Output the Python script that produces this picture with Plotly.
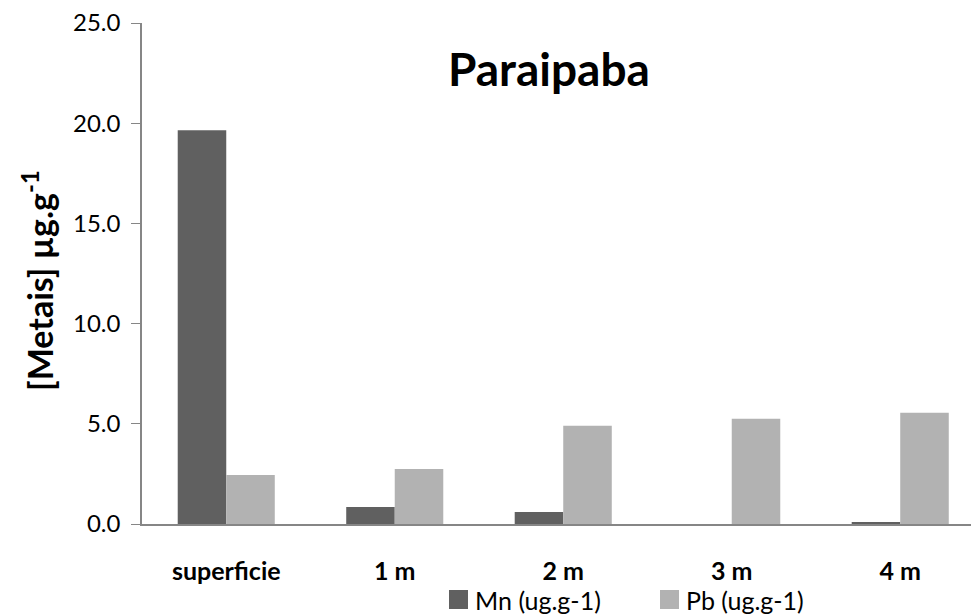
import plotly.graph_objects as go

categories = ["superficie", "1 m", "2 m", "3 m", "4 m"]
mn_values = [19.65, 0.85, 0.6, 0.0, 0.1]
pb_values = [2.45, 2.75, 4.9, 5.25, 5.55]
series_names = ["Mn (ug.g-1)", "Pb (ug.g-1)"]
y_ticks = [0, 5, 10, 15, 20, 25]
y_tick_labels = ["0.0", "5.0", "10.0", "15.0", "20.0", "25.0"]

FONT = "Lato, 'Open Sans', sans-serif"
MN_COLOR = "#606060"
PB_COLOR = "#b2b2b2"
colors = [MN_COLOR, PB_COLOR]

# plot-area geometry (pixels) used to place paper-referenced decorations
L, T, W, H = 142, 23, 829, 501


def px(x):
    return (x - L) / W


def py(y):
    return (T + H - y) / H


fig = go.Figure()
fig.add_trace(go.Bar(x=categories, y=mn_values, name=series_names[0],
                     marker=dict(color=MN_COLOR, line=dict(width=0))))
fig.add_trace(go.Bar(x=categories, y=pb_values, name=series_names[1],
                     marker=dict(color=PB_COLOR, line=dict(width=0))))

# manual legend (swatch + label) below the plot
shapes = []
annotations = []
legend_swatch_x = [449, 660]
for i, name in enumerate(series_names):
    sx = legend_swatch_x[i]
    shapes.append(dict(type="rect", xref="paper", yref="paper",
                       x0=px(sx), x1=px(sx + 19), y0=py(609), y1=py(590),
                       fillcolor=colors[i], line=dict(width=0)))
    annotations.append(dict(text=name, xref="paper", yref="paper",
                            x=px(sx + 24), y=py(600), xanchor="left", yanchor="middle",
                            showarrow=False, font=dict(size=25, family=FONT)))

annotations.append(dict(text="<b>Paraipaba</b>", xref="paper", yref="paper",
                        x=px(549), y=py(68), xanchor="center", yanchor="middle",
                        showarrow=False, font=dict(size=46, family=FONT)))
annotations.append(dict(text="<b>[Metais] µg.g<sup>-1</sup></b>", xref="paper", yref="paper",
                        x=px(38), y=py(281), xanchor="center", yanchor="middle",
                        textangle=-90, showarrow=False, font=dict(size=34, family=FONT)))

fig.update_layout(
    width=971, height=615,
    margin=dict(l=L, r=971 - L - W, t=T, b=615 - T - H),
    paper_bgcolor="white", plot_bgcolor="white",
    barmode="group", bargap=0.424, bargroupgap=0,
    font=dict(family=FONT, size=24, color="black"),
    showlegend=False,
    shapes=shapes,
    annotations=annotations,
)
fig.update_xaxes(range=[-0.5, 4.42], automargin=False,
                 showline=True, linecolor="#868686", linewidth=1.5,
                 ticks="outside", ticklen=24, tickcolor="rgba(0,0,0,0)",
                 tickfont=dict(size=25, family=FONT), showgrid=False,
                 tickprefix="<b>", ticksuffix="</b>")
fig.update_yaxes(range=[0, 25], tickvals=y_ticks, ticktext=y_tick_labels, automargin=False,
                 showline=True, linecolor="#868686", linewidth=1.5, ticks="outside",
                 ticklen=9, tickcolor="#868686", showgrid=False, zeroline=False,
                 ticklabelstandoff=6, tickfont=dict(size=24, family=FONT))

fig.write_html("out.html", config={"displayModeBar": False},
               post_script="document.body.style.margin='0';document.body.style.overflow='hidden';")
